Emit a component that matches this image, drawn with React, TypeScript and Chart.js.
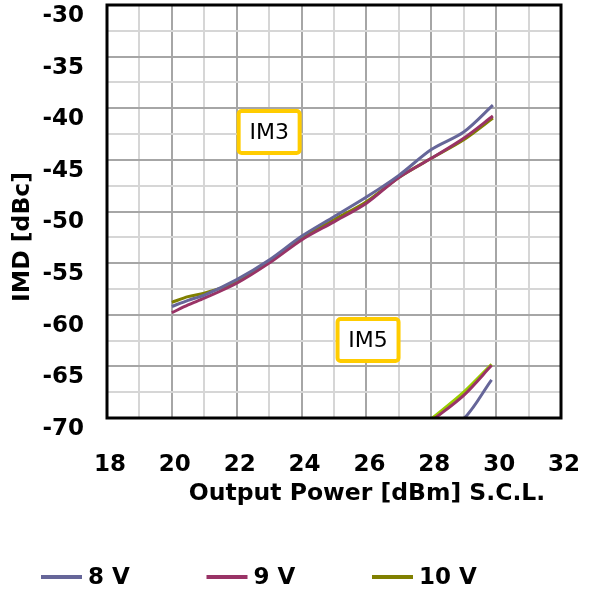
import React, { useEffect, useRef } from 'react';
import { Chart, registerables } from 'chart.js';

Chart.register(...registerables);

// ---- data ----
const seriesLabels = ['8 V', '9 V', '10 V'];
const im3Colors = ['#666699', '#993366', '#808000'];
const im5Colors = ['#666699', '#993366', '#99CC00'];

const im3Power = [20, 20.5, 21, 22, 23, 24, 25, 26, 27, 28, 29, 29.9];
const im3At8V = [-59.2, -58.6, -58.1, -56.6, -54.7, -52.4, -50.5, -48.6, -46.5, -44.0, -42.3, -39.7];
const im3At9V = [-59.8, -59.05, -58.4, -56.95, -55.0, -52.75, -51.0, -49.2, -46.7, -44.85, -42.9, -40.75];
const im3At10V = [-58.8, -58.25, -57.9, -56.85, -54.85, -52.6, -50.8, -49.05, -46.7, -44.85, -43.05, -40.95];

const im5Power8V = [28.0, 28.9, 29.86];
const im5At8V = [-70.6, -70.35, -66.3];
const im5Power = [28.0, 29.0, 29.86];
const im5At9V = [-70.3, -67.8, -64.9];
const im5At10V = [-70.1, -67.5, -64.8];

const xTickValues = [18, 20, 22, 24, 26, 28, 30, 32];
const yTickValues = [-70, -65, -60, -55, -50, -45, -40, -35, -30];

const xTitle = 'Output Power [dBm] S.C.L.';
const yTitle = 'IMD [dBc]';

const noteTexts = ['IM3', 'IM5'];
const notePower = [23.0, 26.05];
const noteImd = [-42.3, -62.45];

// ---- styling ----
const FONT = '"DejaVu Sans", Verdana, sans-serif';
const BOLD = { family: FONT, size: 23, weight: 'bold' as const };

const toPoints = (xs: number[], ys: number[]) => xs.map((x, i) => ({ x, y: ys[i] }));

const clearPadding = (s: any) => {
  s.paddingTop = 0;
  s.paddingBottom = 0;
  s.paddingLeft = 0;
  s.paddingRight = 0;
};

const decorPlugin = {
  id: 'decor',
  afterDatasetsDraw(chart: any) {
    const { ctx, chartArea: a, scales } = chart;
    ctx.save();
    noteTexts.forEach((t, i) => {
      const cx = scales.x.getPixelForValue(notePower[i]);
      const cy = scales.y.getPixelForValue(noteImd[i]);
      const w = 61;
      const h = 42;
      ctx.beginPath();
      ctx.roundRect(cx - w / 2, cy - h / 2, w, h, 3);
      ctx.fillStyle = '#ffffff';
      ctx.fill();
      ctx.lineWidth = 4;
      ctx.strokeStyle = '#FFCC00';
      ctx.stroke();
      ctx.fillStyle = '#000000';
      ctx.font = `22px ${FONT}`;
      ctx.textAlign = 'center';
      ctx.textBaseline = 'middle';
      ctx.fillText(t, cx, cy + 1);
    });
    ctx.lineWidth = 3;
    ctx.strokeStyle = '#000000';
    ctx.strokeRect(a.left, a.top, a.right - a.left, a.bottom - a.top);
    ctx.restore();
  },
  afterDraw(chart: any) {
    const { ctx } = chart;
    ctx.save();
    ctx.fillStyle = '#000000';
    ctx.font = `bold 23.5px ${FONT}`;
    ctx.textAlign = 'center';
    ctx.textBaseline = 'middle';
    ctx.fillText(xTitle, 367, 494);
    ctx.save();
    ctx.translate(23, 237);
    ctx.rotate(-Math.PI / 2);
    ctx.fillText(yTitle, 0, 0);
    ctx.restore();

    // legend
    ctx.font = `bold 23px ${FONT}`;
    ctx.textAlign = 'left';
    const ds = chart.data.datasets.slice(0, 3);
    ds.forEach((d: any, i: number) => {
      const x0 = 41 + i * 165.5;
      ctx.fillStyle = d.borderColor;
      ctx.fillRect(x0, 575, 41, 4);
      ctx.fillStyle = '#000000';
      ctx.fillText(d.label, x0 + 47, 578);
    });
    ctx.restore();
  },
};

export default function App() {
  const ref = useRef<HTMLCanvasElement | null>(null);

  useEffect(() => {
    if (!ref.current) return;
    const line = (label: string, pts: any[], color: string) => ({
      label,
      data: pts,
      borderColor: color,
      backgroundColor: color,
      borderWidth: 3,
      pointRadius: 0,
      tension: 0.3,
      fill: false,
    });
    const chart = new Chart(ref.current, {
      type: 'line',
      data: {
        datasets: [
          line(seriesLabels[0], toPoints(im3Power, im3At8V), im3Colors[0]),
          line(seriesLabels[1], toPoints(im3Power, im3At9V), im3Colors[1]),
          line(seriesLabels[2], toPoints(im3Power, im3At10V), im3Colors[2]),
          line(seriesLabels[0], toPoints(im5Power8V, im5At8V), im5Colors[0]),
          line(seriesLabels[1], toPoints(im5Power, im5At9V), im5Colors[1]),
          line(seriesLabels[2], toPoints(im5Power, im5At10V), im5Colors[2]),
        ],
      },
      options: {
        animation: false,
        responsive: false,
        maintainAspectRatio: false,
        layout: { autoPadding: false, padding: { top: 5, right: 31, bottom: 0, left: 0 } },
        plugins: { legend: { display: false }, tooltip: { enabled: false } },
        scales: {
          x: {
            type: 'linear',
            min: 18,
            max: 32,
            afterFit: (s: any) => { s.height = 174; clearPadding(s); },
            border: { display: false },
            grid: {
              drawTicks: false,
              lineWidth: 2,
              color: (c: any) => (c.tick && c.tick.value % 2 === 0 ? '#a6a6a6' : '#d6d6d6'),
            },
            ticks: {
              stepSize: 1,
              autoSkip: false,
              maxRotation: 0,
              minRotation: 0,
              padding: 33,
              labelOffset: 3,
              color: '#000000',
              font: BOLD,
              callback: (v: any) => (xTickValues.includes(Number(v)) ? String(v) : ''),
            },
          },
          y: {
            type: 'linear',
            min: -70,
            max: -30,
            afterFit: (s: any) => { s.width = 107; clearPadding(s); },
            border: { display: false },
            grid: {
              drawTicks: false,
              lineWidth: 2,
              color: (c: any) => (c.tick && c.tick.value % 5 === 0 ? '#a6a6a6' : '#d6d6d6'),
            },
            ticks: {
              stepSize: 2.5,
              autoSkip: false,
              padding: 23,
              labelOffset: 11,
              color: '#000000',
              font: BOLD,
              callback: (v: any) => (yTickValues.includes(Number(v)) ? String(v) : ''),
            },
          },
        },
      },
      plugins: [decorPlugin],
    });
    return () => chart.destroy();
  }, []);

  return (
    <div style={{ position: 'absolute', left: 0, top: 0, width: 592, height: 592, background: '#fff' }}>
      <canvas ref={ref} width={592} height={592} style={{ display: 'block' }} />
    </div>
  );
}
